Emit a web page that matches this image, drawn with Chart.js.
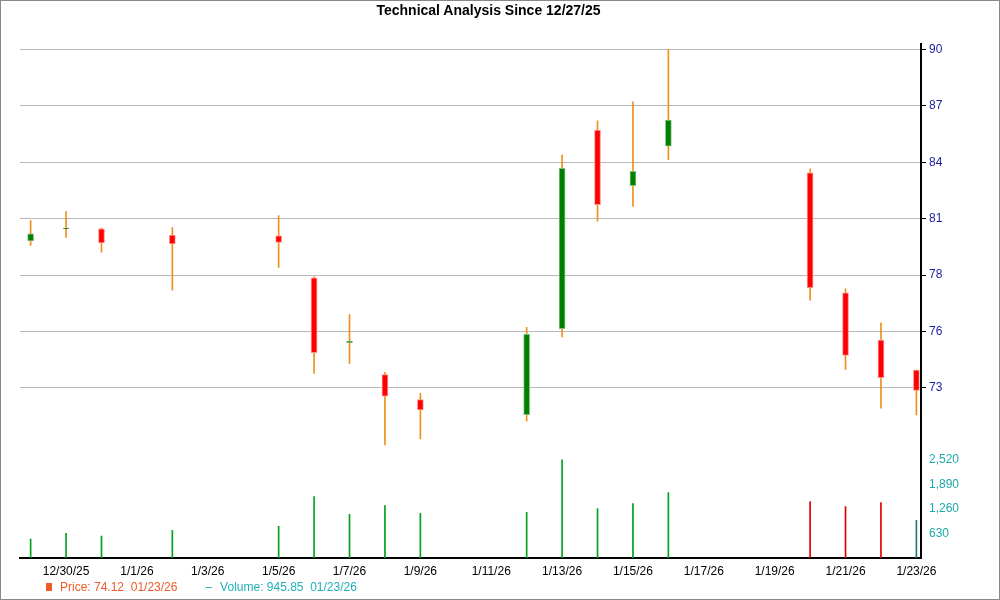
<!DOCTYPE html>
<html><head><meta charset="utf-8">
<script src="https://cdn.jsdelivr.net/npm/chart.js@4"></script>
<style>
html,body{margin:0;padding:0;background:#fff}
#wrap{position:relative;width:1000px;height:600px;box-sizing:border-box;border:1px solid #888;font-family:"Liberation Sans",Arial,sans-serif}
#title{position:absolute;top:1px;left:0;width:975px;text-align:center;font-weight:bold;font-size:14px;color:#000}
#legend{position:absolute;top:579px;left:45px;font-size:12px}
canvas{position:absolute;left:0;top:0}
</style></head><body>
<div id="wrap">
<canvas id="c" width="998" height="598"></canvas>
<div id="title">Technical Analysis Since 12/27/25</div>
<div id="legend"><span style="color:#f05a28"><span style="display:inline-block;width:6px;height:8px;background:#f05a28;margin-right:8px"></span>Price: 74.12&nbsp; 01/23/26</span><span style="color:#20b0b8;margin-left:28px"><span style="margin-right:8px">–</span>Volume: 945.85&nbsp; 01/23/26</span></div>
</div>
<script>
const dates = ["12/29/25","12/30/25","12/31/25","1/1/26","1/2/26","1/3/26","1/4/26","1/5/26","1/6/26","1/7/26","1/8/26","1/9/26","1/10/26","1/11/26","1/12/26","1/13/26","1/14/26","1/15/26","1/16/26","1/17/26","1/18/26","1/19/26","1/20/26","1/21/26","1/22/26","1/23/26"];
const tradeDays = [0,1,2,4,7,8,9,10,11,14,15,16,17,18,22,23,24,25];
const opens  = [79.81,80.47,80.45,80.13,80.08,77.85,74.40,72.70,71.37,70.57,75.14,85.71,82.75,84.86,83.43,77.05,74.54,72.94];
const closes = [80.19,80.49,79.71,79.65,79.74,73.87,74.48,71.56,70.82,74.85,83.67,81.74,83.51,86.24,77.32,73.72,72.54,71.86];
const highs  = [80.89,81.37,80.50,80.52,81.16,77.90,75.90,72.82,71.70,75.21,84.40,86.20,87.21,90.00,83.65,77.26,75.46,72.94];
const lows   = [79.58,80.00,79.21,77.19,78.40,72.77,73.30,68.96,69.28,70.23,74.70,80.86,81.65,84.13,76.66,72.98,70.92,70.55];
const volumes= [485,638,561,714,816,1581,1122,1352,1148,1173,2525,1275,1403,1683,1454,1326,1428,969];
const priceTicks = [72,75,78,81,84,87,90];
const priceTickLabels = {72:"73",75:"76",78:"78",81:"81",84:"84",87:"87",90:"90"};
const volTicks = [630,1260,1890,2520];

const wick = tradeDays.map((d,i)=>({x:d,y:[lows[i],highs[i]]}));
const body = tradeDays.map((d,i)=>({x:d,y:[opens[i],closes[i]]}));
const bodyCol = tradeDays.map((d,i)=>closes[i]>=opens[i]?'#008000':'#ff0000');
const vol = tradeDays.map((d,i)=>({x:d,y:volumes[i]}));
const volCol = tradeDays.map((d,i)=>d>=22&&d<25?'#e00000':(d===25?'#207878':'#00a020'));

new Chart(document.getElementById('c'),{
  type:'bar',
  data:{datasets:[
    {data:wick,backgroundColor:'#f0901e',barThickness:1,yAxisID:'y',order:2},
    {data:body,backgroundColor:bodyCol,borderColor:bodyCol.map(c=>c==='#008000'?'#80c080':'#ff9090'),borderWidth:1,borderSkipped:false,barThickness:6,yAxisID:'y',order:1},
    {data:vol,backgroundColor:volCol,barThickness:1,yAxisID:'yv'}
  ]},
  options:{
    responsive:false,animation:false,
    layout:{padding:{left:19,top:43,right:12,bottom:19}},
    datasets:{bar:{grouped:false}},
    plugins:{legend:{display:false},tooltip:{enabled:false}},
    scales:{
      x:{type:'linear',min:-0.3,max:25.13,offset:false,
        afterBuildTicks:s=>{s.ticks=[];for(let d=1;d<=25;d+=2)s.ticks.push({value:d});},
        afterFit:s=>{s.height=22;},
        grid:{display:false,drawTicks:true,tickLength:5,color:'#000'},
        border:{color:'#000',width:2},
        ticks:{autoSkip:false,maxRotation:0,padding:1,color:'#000',font:{family:'Liberation Sans',size:12},callback:v=>dates[v]}},
      y:{position:'right',stack:'s',stackWeight:413,min:68.36,max:90.29,
        afterBuildTicks:s=>{s.ticks=priceTicks.map(v=>({value:v}));},
        afterFit:s=>{s.width=66;},
        grid:{color:'#b8b8b8',drawTicks:true,tickLength:5,tickColor:'#000'},
        border:{color:'#000',width:2},
        ticks:{color:'#1c1ca0',padding:3,font:{family:'Liberation Sans',size:12},callback:v=>priceTickLabels[v]}},
      yv:{position:'right',stack:'s',stackWeight:102,min:0,max:2620,offset:false,
        afterBuildTicks:s=>{s.ticks=volTicks.map(v=>({value:v}));},
        afterFit:s=>{s.width=66;},
        grid:{display:false,drawTicks:true,tickLength:5,color:'#000'},
        border:{color:'#000',width:2},
        ticks:{color:'#20a8a8',padding:3,font:{family:'Liberation Sans',size:12},callback:v=>v.toLocaleString('en-US')}}
    }
  }
});
</script>
</body></html>
